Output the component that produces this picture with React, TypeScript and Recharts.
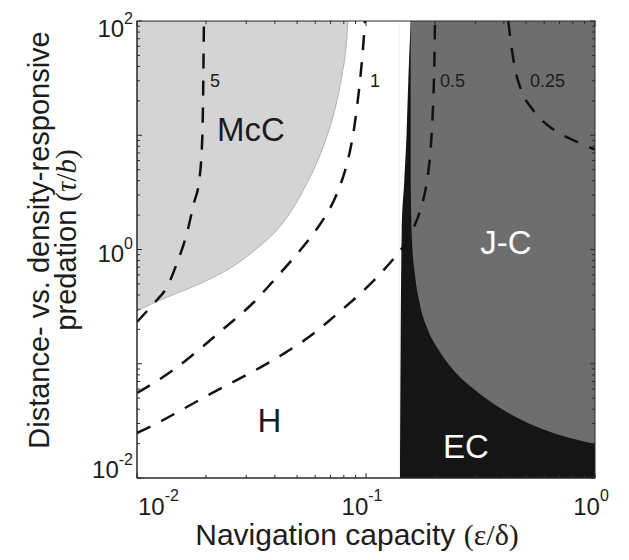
import React from 'react';
import { ComposedChart, Area, Line, XAxis, YAxis } from 'recharts';

// ---------------- data ----------------
// McC region (light grey): area above this boundary curve
const mccX = [0.01, 0.01325, 0.01703, 0.02126, 0.02679, 0.03275, 0.04005, 0.04751, 0.0547, 0.06171, 0.06825, 0.07396, 0.07855, 0.08177, 0.08344];
const mccY = [0.2896, 0.3763, 0.4603, 0.5629, 0.7316, 0.99, 1.423, 2.217, 3.669, 6.072, 10.46, 18.4, 33.69, 58.03, 100];

// EC region (black) spans this x range, full height
const ecX = [0.1407, 1.0];

// left (white / black) edge of the EC strip: white above this curve
const hEdgeX = [0.1407, 0.1417, 0.1432, 0.1469, 0.1505, 0.153, 0.1567];
const hEdgeY = [0.01, 0.161, 1.39, 3.92, 10.7, 29.4, 100];

// J-C region (dark grey): area above this boundary curve
const jcX = [0.15672, 0.15751, 0.15878, 0.16365, 0.17212, 0.18651, 0.2104, 0.24464, 0.29921, 0.38475, 0.52011, 0.72479, 1.0];
const jcY = [3.669, 2.004, 1.211, 0.5979, 0.3267, 0.1974, 0.1267, 0.08472, 0.05892, 0.041, 0.0297, 0.02332, 0.01984];

// dashed contour lines
const c5X = [0.01, 0.01186, 0.01352, 0.01495, 0.01652, 0.01772, 0.01866, 0.0193, 0.0196];
const c5Y = [0.232, 0.34, 0.47, 0.762, 1.39, 2.55, 3.9, 10, 100];
const c1X = [0.01, 0.013118, 0.01653, 0.021686, 0.026522, 0.03243, 0.03966, 0.048975, 0.059886, 0.069653, 0.077735, 0.084294, 0.089518, 0.094151, 0.097037, 0.098998];
const c1Y = [0.05546, 0.07657, 0.10787, 0.17146, 0.2415, 0.34013, 0.54084, 0.8599, 1.4229, 2.217, 3.669, 6.3225, 12.293, 29.244, 55.76, 100];
const c05X = [0.01, 0.012603, 0.016205, 0.020835, 0.02679, 0.034443, 0.044285, 0.056938, 0.069653, 0.085126, 0.106231, 0.129868, 0.14807, 0.16042, 0.17384, 0.18464, 0.19222, 0.19711, 0.1991, 0.2001];
const c05Y = [0.024765, 0.030915, 0.041, 0.054345, 0.07064, 0.091818, 0.12416, 0.17146, 0.2415, 0.34013, 0.50896, 0.79318, 1.09492, 1.4813, 2.217, 3.669, 7.43, 20.35, 45.57, 100];
const c025X = [0.418, 0.4327, 0.4472, 0.4786, 0.5294, 0.575, 0.6806, 0.832, 1.0];
const c025Y = [100, 57.7, 38.6, 24.1, 17.2, 14.1, 10.75, 8.78, 7.5];

const contourLabels = ['5', '1', '0.5', '0.25'];
const regionLabels = ['McC', 'J-C', 'H', 'EC'];

// axes
const xMajorTicks = [0.01, 0.1, 1];
const xTickExp = ['-2', '-1', '0'];
const yMajorTicks = [0.01, 0.1, 1, 10, 100];
const yLabelTicks = [0.01, 1, 100];
const yTickExp = ['-2', '0', '2'];
const minorMult = [2, 3, 4, 5, 6, 7, 8, 9];
const xTicksAll = [...xMajorTicks, ...xMajorTicks.slice(0, -1).flatMap((d) => minorMult.map((m) => +(d * m).toPrecision(6)))];
const yTicksAll = [...yMajorTicks, ...yMajorTicks.slice(0, -1).flatMap((d) => minorMult.map((m) => +(d * m).toPrecision(6)))];

// ---------------- layout ----------------
const W = 621;
const H = 552;
const PLOT = { left: 129, top: 13, right: 587, bottom: 470 };
const AX = '#2a2a2a';
const TXT = '#1c1c1c';
const SANS = '"Liberation Sans", Arial, Helvetica, sans-serif';
const SERIF = '"Liberation Serif", "Times New Roman", serif';

const rangeData = (xs: number[], lows: number[], high: number) => xs.map((x, i) => ({ x, r: [lows[i], high] }));
const lineData = (xs: number[], ys: number[]) => xs.map((x, i) => ({ x, y: ys[i] }));
const same = (a: number, b: number) => Math.abs(a - b) / b < 1e-6;

const mccData = rangeData(mccX, mccY, 100);
const ecData = ecX.map((x) => ({ x, r: [0.01, 100] }));
const hEdgeData = rangeData(hEdgeX, hEdgeY, 100);
const jcData = rangeData(jcX, jcY, 100);

const tickText = { fontSize: 24, fontFamily: SANS, fill: TXT };
const supText = { fontSize: 16 };

function XTick(props: any) {
  const { x, y, payload } = props;
  const v = payload.value;
  const idx = xMajorTicks.findIndex((t) => same(v, t));
  const len = idx >= 0 ? 5 : 3;
  const h = PLOT.bottom - PLOT.top;
  let label = null;
  if (idx >= 0) {
    const sup = xTickExp[idx];
    const w = 26.7 + (sup.length === 2 ? 14.2 : 8.9);
    const left = Math.max(x - 4 - w / 2, PLOT.left + 1);
    label = (
      <text x={left} y={y + 37} style={tickText}>
        10<tspan dy={-14} style={supText}>{sup}</tspan>
      </text>
    );
  }
  return (
    <g>
      <line x1={x} x2={x} y1={y} y2={y - len} stroke={AX} strokeWidth={1} />
      <line x1={x} x2={x} y1={y - h} y2={y - h + len} stroke={AX} strokeWidth={1} />
      {label}
    </g>
  );
}

function YTick(props: any) {
  const { x, y, payload } = props;
  const v = payload.value;
  const major = yMajorTicks.some((t) => same(v, t));
  const li = yLabelTicks.findIndex((t) => same(v, t));
  const len = major ? 5 : 3;
  const w = PLOT.right - PLOT.left;
  let label = null;
  if (li >= 0) {
    const baseline = Math.min(Math.max(y + 12, PLOT.top + 16), PLOT.bottom);
    label = (
      <text x={x - 4} y={baseline} textAnchor="end" style={tickText}>
        10<tspan dy={-13} style={supText}>{yTickExp[li]}</tspan>
      </text>
    );
  }
  return (
    <g>
      <line x1={x} x2={x + len} y1={y} y2={y} stroke={AX} strokeWidth={1} />
      <line x1={x + w} x2={x + w - len} y1={y} y2={y} stroke={AX} strokeWidth={1} />
      {label}
    </g>
  );
}

const dashProps = {
  dataKey: 'y',
  stroke: '#111',
  strokeWidth: 2.5,
  strokeDasharray: '15 12',
  dot: false,
  activeDot: false,
  isAnimationActive: false,
  strokeLinecap: 'butt' as const,
};

export default function App() {
  return (
    <div style={{ position: 'relative', width: W, height: H, fontFamily: SANS }}>
      <ComposedChart width={W} height={H} margin={{ top: PLOT.top, right: W - PLOT.right, bottom: 0, left: 0 }}>
        <XAxis
          dataKey="x"
          type="number"
          scale="log"
          domain={[0.01, 1]}
          allowDataOverflow
          ticks={xTicksAll}
          interval={0}
          tickSize={0}
          tickMargin={0}
          tickLine={false}
          axisLine={{ stroke: AX }}
          height={H - PLOT.bottom}
          tick={(p: any) => <XTick {...p} />}
        />
        <YAxis
          type="number"
          scale="log"
          domain={[0.01, 100]}
          allowDataOverflow
          ticks={yTicksAll}
          interval={0}
          tickSize={0}
          tickMargin={0}
          tickLine={false}
          axisLine={{ stroke: AX }}
          width={PLOT.left}
          tick={(p: any) => <YTick {...p} />}
        />
        <Area data={mccData} dataKey="r" type="monotone" fill="#d4d4d4" fillOpacity={1} stroke="#a3a3a3" strokeWidth={0.8} dot={false} activeDot={false} isAnimationActive={false} />
        <Area data={ecData} dataKey="r" type="linear" fill="#151515" fillOpacity={1} stroke="none" dot={false} activeDot={false} isAnimationActive={false} />
        <Area data={hEdgeData} dataKey="r" type="monotone" fill="#ffffff" fillOpacity={1} stroke="none" dot={false} activeDot={false} isAnimationActive={false} />
        <Area data={jcData} dataKey="r" type="monotone" fill="#6e6e6e" fillOpacity={1} stroke="none" dot={false} activeDot={false} isAnimationActive={false} />
        <Line data={lineData(c5X, c5Y)} type="monotone" {...dashProps} />
        <Line data={lineData(c1X, c1Y)} type="basis" {...dashProps} />
        <Line data={lineData(c05X, c05Y)} type="basis" {...dashProps} />
        <Line data={lineData(c025X, c025Y)} type="monotone" {...dashProps} />
      </ComposedChart>
      <svg width={W} height={H} style={{ position: 'absolute', left: 0, top: 0, pointerEvents: 'none' }}>
        <rect x={PLOT.left} y={PLOT.top} width={PLOT.right - PLOT.left} height={PLOT.bottom - PLOT.top} fill="none" stroke={AX} strokeWidth={1} />
        {/* contour labels */}
        <text x={202} y={79} style={{ fontSize: 18, fontFamily: SANS, fill: TXT }}>{contourLabels[0]}</text>
        <text x={362} y={79} style={{ fontSize: 18, fontFamily: SANS, fill: TXT }}>{contourLabels[1]}</text>
        <text x={432} y={79} style={{ fontSize: 18, fontFamily: SANS, fill: TXT }}>{contourLabels[2]}</text>
        <text x={522} y={79} style={{ fontSize: 18, fontFamily: SANS, fill: TXT }}>{contourLabels[3]}</text>
        {/* region labels */}
        <text x={209} y={133} style={{ fontSize: 33, fontFamily: SANS, fill: TXT }}>{regionLabels[0]}</text>
        <text x={498} y={246} textAnchor="middle" style={{ fontSize: 33, fontFamily: SANS, fill: '#ffffff' }}>{regionLabels[1]}</text>
        <text x={261.5} y={424} textAnchor="middle" style={{ fontSize: 33, fontFamily: SANS, fill: TXT }}>{regionLabels[2]}</text>
        <text x={458} y={450} textAnchor="middle" style={{ fontSize: 33, fontFamily: SANS, fill: '#ffffff' }}>{regionLabels[3]}</text>
        {/* axis titles */}
        <text x={349} y={537} textAnchor="middle" style={{ fontSize: 30, fontFamily: SANS, fill: TXT }}>
          Navigation capacity <tspan style={{ fontFamily: SERIF }}>(ε/δ)</tspan>
        </text>
        <text transform="translate(41,232) rotate(-90)" textAnchor="middle" style={{ fontSize: 29, fontFamily: SANS, fill: TXT }}>
          Distance- vs. density-responsive
        </text>
        <text transform="translate(68,232) rotate(-90)" textAnchor="middle" style={{ fontSize: 29, fontFamily: SANS, fill: TXT }}>
          predation <tspan style={{ fontFamily: SERIF }}>(</tspan>
          <tspan style={{ fontFamily: SERIF, fontStyle: 'italic' }}>τ</tspan>
          <tspan style={{ fontFamily: SERIF }}>/</tspan>
          <tspan style={{ fontFamily: SERIF, fontStyle: 'italic' }}>b</tspan>
          <tspan style={{ fontFamily: SERIF }}>)</tspan>
        </text>
      </svg>
    </div>
  );
}
